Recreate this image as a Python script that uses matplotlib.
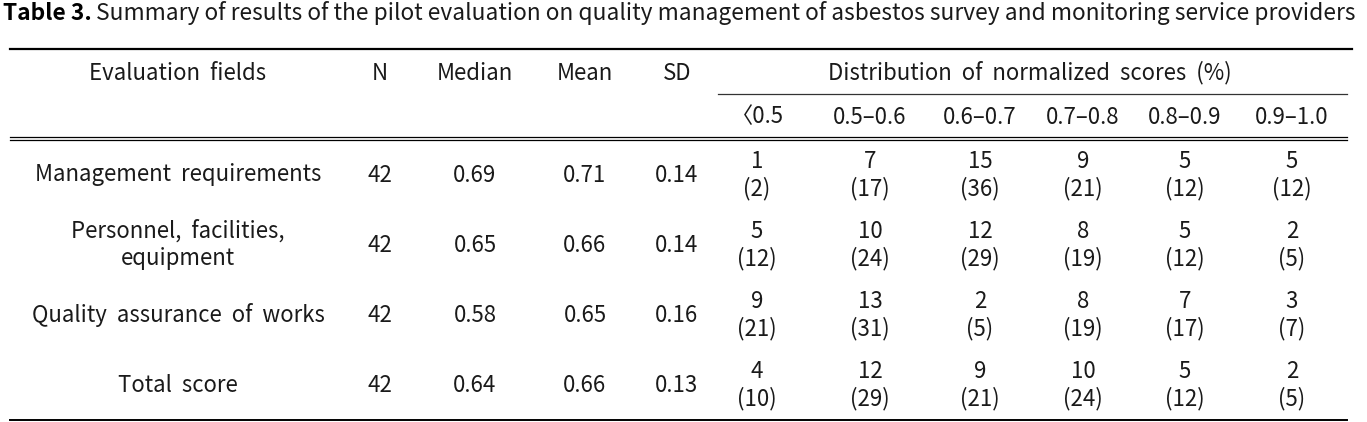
import matplotlib
matplotlib.use("Agg")
import matplotlib.pyplot as plt

plt.rcParams['font.family'] = ['Noto Sans CJK KR', 'DejaVu Sans']

# ---------------------------------------------------------------------------
# Table data
# ---------------------------------------------------------------------------
title_bold = "Table 3."
title_rest = ("Summary of results of the pilot evaluation on quality management "
              "of asbestos survey and monitoring service providers")

headers = ["Evaluation  fields", "N", "Median", "Mean", "SD"]
dist_header = "Distribution  of  normalized  scores  (%)"
bins = ["〈0.5", "0.5–0.6", "0.6–0.7", "0.7–0.8", "0.8–0.9", "0.9–1.0"]

fields = ["Management  requirements", "Personnel,  facilities,\nequipment",
          "Quality  assurance  of  works", "Total  score"]
n_vals = [42, 42, 42, 42]
median = [0.69, 0.65, 0.58, 0.64]
mean = [0.71, 0.66, 0.65, 0.66]
sd = [0.14, 0.14, 0.16, 0.13]
counts = [[1, 7, 15, 9, 5, 5],
          [5, 10, 12, 8, 5, 2],
          [9, 13, 2, 8, 7, 3],
          [4, 12, 9, 10, 5, 2]]
pcts = [[2, 17, 36, 21, 12, 12],
        [12, 24, 29, 19, 12, 5],
        [21, 31, 5, 19, 17, 7],
        [10, 29, 21, 24, 12, 5]]

# ---------------------------------------------------------------------------
# Layout (pixel coordinates)
# ---------------------------------------------------------------------------
W, H = 1367, 422
col_x = [178, 380, 475, 585, 677]
bin_x = [757, 870, 980, 1083, 1185, 1292]
row_y = [175, 245, 315, 385]
FS = 16
TITLE_FS = 16.4
TXT = "#1a1a1a"

fig = plt.figure(figsize=(W / 100, H / 100), dpi=100)
ax = fig.add_axes([0, 0, 1, 1])
ax.set_xlim(0, W)
ax.set_ylim(H, 0)
ax.axis("off")

# title: bold label followed by the regular caption
t = ax.text(3, 13, title_bold, fontsize=TITLE_FS, fontweight="bold", color="black",
            va="center", ha="left")
fig.canvas.draw()
bb = t.get_window_extent()
x_end = ax.transData.inverted().transform((bb.x1, bb.y0))[0]
ax.text(x_end + 4, 13, title_rest, fontsize=TITLE_FS, color=TXT, va="center", ha="left")

# rules
ax.plot([10, 1352], [49, 49], color="black", lw=1.6)
ax.plot([718, 1347], [94, 94], color="#333", lw=0.9)
ax.plot([10, 1347], [136.5, 136.5], color="black", lw=0.9)
ax.plot([10, 1347], [140, 140], color="black", lw=0.9)
ax.plot([10, 1347], [420, 420], color="black", lw=1.4)

# header
for x, h in zip(col_x, headers):
    ax.text(x, 73, h, fontsize=FS, color=TXT, ha="center", va="center")
ax.text(1030, 73, dist_header, fontsize=FS, color=TXT, ha="center", va="center")
for x, b in zip(bin_x, bins):
    ax.text(x, 117, b, fontsize=FS, color=TXT, ha="center", va="center")

# body
for i, y in enumerate(row_y):
    ax.text(col_x[0], y, fields[i], fontsize=FS, color=TXT, ha="center",
            va="center", linespacing=1.25)
    ax.text(col_x[1], y, str(n_vals[i]), fontsize=FS, color=TXT, ha="center", va="center")
    ax.text(col_x[2], y, f"{median[i]:.2f}", fontsize=FS, color=TXT, ha="center", va="center")
    ax.text(col_x[3], y, f"{mean[i]:.2f}", fontsize=FS, color=TXT, ha="center", va="center")
    ax.text(col_x[4], y, f"{sd[i]:.2f}", fontsize=FS, color=TXT, ha="center", va="center")
    for j, x in enumerate(bin_x):
        ax.text(x, y - 14, str(counts[i][j]), fontsize=FS, color=TXT, ha="center", va="center")
        ax.text(x, y + 14, f"({pcts[i][j]})", fontsize=FS, color=TXT, ha="center", va="center")

fig.savefig("out.png", dpi=100, facecolor="white")
